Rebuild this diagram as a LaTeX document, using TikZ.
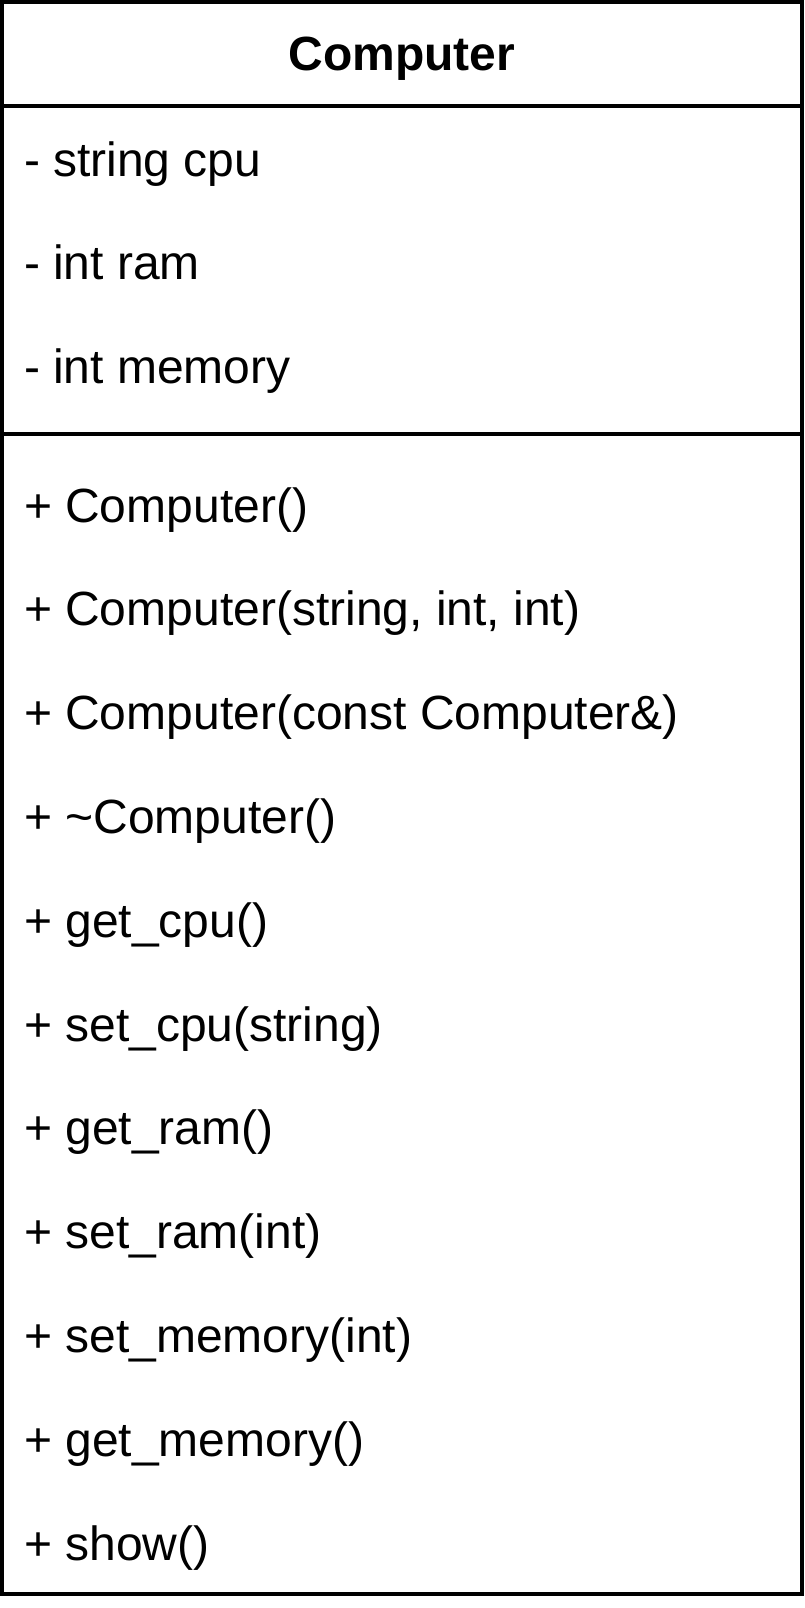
\documentclass[tikz,border=0pt]{standalone}
\usepackage{fontspec}
\setmainfont{Liberation Sans}
\begin{document}
\begin{tikzpicture}[x=0.75pt,y=-0.75pt,line width=3pt]
	\tikzset{member/.style={anchor=base west,inner sep=0pt,font=\fontsize{36}{36}\selectfont}}
	\useasboundingbox (0,0) rectangle (804,1608);
	\def\lft{2} \def\rgt{802}
	\def\txtx{22}
	% class box and its two separators
	\draw (\lft,2) rectangle (\rgt,1594);
	\draw (\lft,106)--(\rgt,106);
	\draw (\lft,434)--(\rgt,434);
	\node[anchor=base,inner sep=0pt,font=\fontsize{36}{36}\selectfont\bfseries] (title) at (402,71) {Computer};
	% attributes
	\foreach \txt [count=\i] in {- string cpu, - int ram, - int memory}
		\node[member] (a\i) at (\txtx,{177+103*(\i-1)}) {\txt};
	% methods
	\foreach \txt [count=\i] in {+ Computer(), {+ Computer(string, int, int)}, + Computer(const Computer\&),
		+ \textasciitilde Computer(), + get\_cpu(), + set\_cpu(string), + get\_ram(), + set\_ram(int),
		+ set\_memory(int), + get\_memory(), + show()}
		\node[member] (m\i) at (\txtx,{522+103.8*(\i-1)}) {\txt};
\end{tikzpicture}
\end{document}
